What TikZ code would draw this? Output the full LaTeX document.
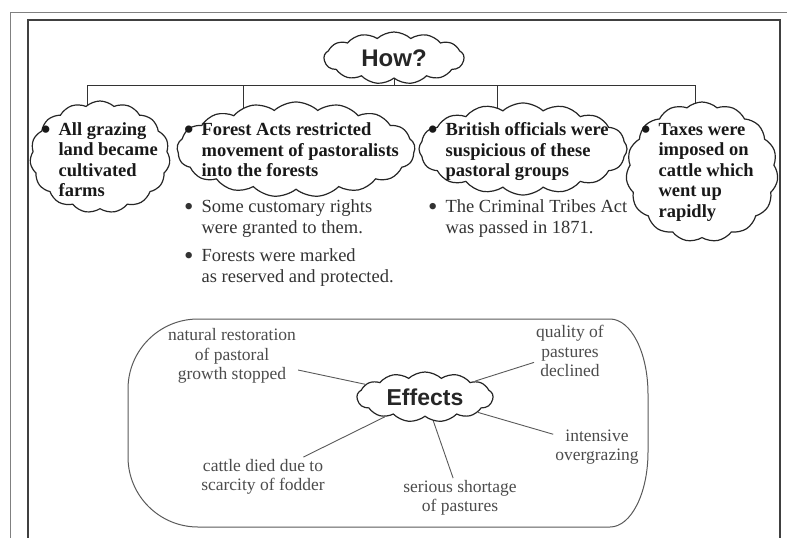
\documentclass[tikz,border=0pt]{standalone}
\usepackage{fontspec}
\setmainfont{Liberation Serif}
\setsansfont{Liberation Sans}
\usepackage{graphicx}
\usepackage{tikz}
\usetikzlibrary{shapes.symbols, backgrounds}
\tikzstyle{cloudbox} = [shape=cloud, draw=black!85, fill=white, line width=1.2pt, cloud puffs=15, cloud puff arc=85, cloud ignores aspect, inner sep=0pt]
\tikzstyle{link} = [line width=1pt, black!80]
\tikzstyle{spoke} = [line width=0.9pt, black!65]
\tikzstyle{head} = [font=\sffamily\bfseries\fontsize{24}{26}\selectfont, text=black!85]
\tikzstyle{boldlist} = [anchor=west, inner sep=0pt, font=\bfseries\fontsize{18.5}{20.5}\selectfont, text=black!90]
\tikzstyle{plainlist} = [anchor=west, inner sep=0pt, font=\fontsize{18.5}{21}\selectfont, text=black!80]
\tikzstyle{effect} = [align=center, inner sep=2pt, font=\fontsize{17.5}{19.5}\selectfont, text=black!70]
\newcommand{\bul}{\raisebox{-0.17em}{\scalebox{1.45}{\textbullet}}}
\newcommand{\blist}[1]{\begin{tabular}{@{}l@{\hspace{8pt}}l@{}}#1\end{tabular}}

\begin{document}
\begin{tikzpicture}[x=1pt, y=1pt]
        \useasboundingbox (0,0) rectangle (787,-538);
        % Frame
        \draw[black!50, line width=1pt] (787,-12) -- (10,-12) -- (10,-538);
        \draw[black!75, line width=1.3pt] (28,-538) -- (28,-20) -- (780,-20) -- (780,-538);

        % Clouds
        \node[cloudbox, minimum width=140pt, minimum height=52pt, cloud puffs=13] (how) at (394,-58) {};
        \node[head] (howtext) at (how) {How?};
        \node[cloudbox, minimum width=140pt, minimum height=112pt] (c1) at (100,-157) {};
        \node[cloudbox, minimum width=238pt, minimum height=95pt, cloud puffs=17] (c2) at (296,-149.5) {};
        \node[cloudbox, minimum width=208pt, minimum height=92pt, cloud puffs=16] (c3) at (523,-149) {};
        \node[cloudbox, minimum width=152pt, minimum height=140pt] (c4) at (702,-172) {};

        % Cloud texts
        \node[boldlist] (t1) at (41,-162) {\blist{\bul & All grazing\\ & land became\\ & cultivated\\ & farms}};
        \node[boldlist] (t2) at (184,-152) {\blist{\bul & Forest Acts restricted\\ & movement of pastoralists\\ & into the forests}};
        \node[boldlist] (t3) at (428,-152) {\blist{\bul & British officials were\\ & suspicious of these\\ & pastoral groups}};
        \node[boldlist] (t4) at (641,-172) {\blist{\bul & Taxes were\\ & imposed on\\ & cattle which\\ & went up\\ & rapidly}};

        % Points below
        \node[plainlist] (s1) at (184,-218.5) {\blist{\bul & Some customary rights\\ & were granted to them.}};
        \node[plainlist] (s2) at (184,-268) {\blist{\bul & Forests were marked\\ & as reserved and protected.}};
        \node[plainlist] (s3) at (428,-218.5) {\blist{\bul & The Criminal Tribes Act\\ & was passed in 1871.}};

        % Tree lines
        \coordinate (b1) at (87,-85);
        \coordinate (b2) at (243,-85);
        \coordinate (b3) at (497,-85);
        \coordinate (b4) at (695,-85);
        \begin{pgfonlayer}{background}
          \draw[link] (b1) -- (b4);
          \draw[link] (how) -- (how |- b1);
          \draw[link] (b1) -- (b1 |- c1.center);
          \draw[link] (b2) -- (b2 |- c2.center);
          \draw[link] (b3) -- (b3 |- c3.center);
          \draw[link] (b4) -- (b4 |- c4.center);
        \end{pgfonlayer}

        % Effects
        \draw[black!65, line width=1pt] (198,-319) -- (610,-319)
          arc[start angle=90, end angle=0, x radius=38, y radius=75] -- (648,-452)
          arc[start angle=0, end angle=-90, x radius=38, y radius=75] -- (198,-527)
          arc[start angle=270, end angle=180, x radius=70, y radius=70] -- (128,-389)
          arc[start angle=180, end angle=90, x radius=70, y radius=70];
        \node[cloudbox, minimum width=136pt, minimum height=50pt, cloud puffs=13] (eff) at (425,-397) {};
        \node[head, font=\sffamily\bfseries\fontsize{23}{25}\selectfont] (efftext) at (eff) {Effects};

        \node[effect] (n1) at (232,-356) {natural restoration\\of pastoral\\growth stopped};
        \node[effect] (n2) at (570,-351) {quality of\\pastures\\declined};
        \node[effect] (n3) at (597,-447) {intensive\\overgrazing};
        \node[effect] (n4) at (460,-498) {serious shortage\\of pastures};
        \node[effect] (n5) at (263,-477) {cattle died due to\\scarcity of fodder};

        \draw[spoke] (eff) -- (n1);
        \draw[spoke] (eff) -- (n2);
        \draw[spoke] (eff) -- (n3);
        \draw[spoke] (eff) -- (n4);
        \draw[spoke] (eff) -- (n5);
\end{tikzpicture}
\end{document}
